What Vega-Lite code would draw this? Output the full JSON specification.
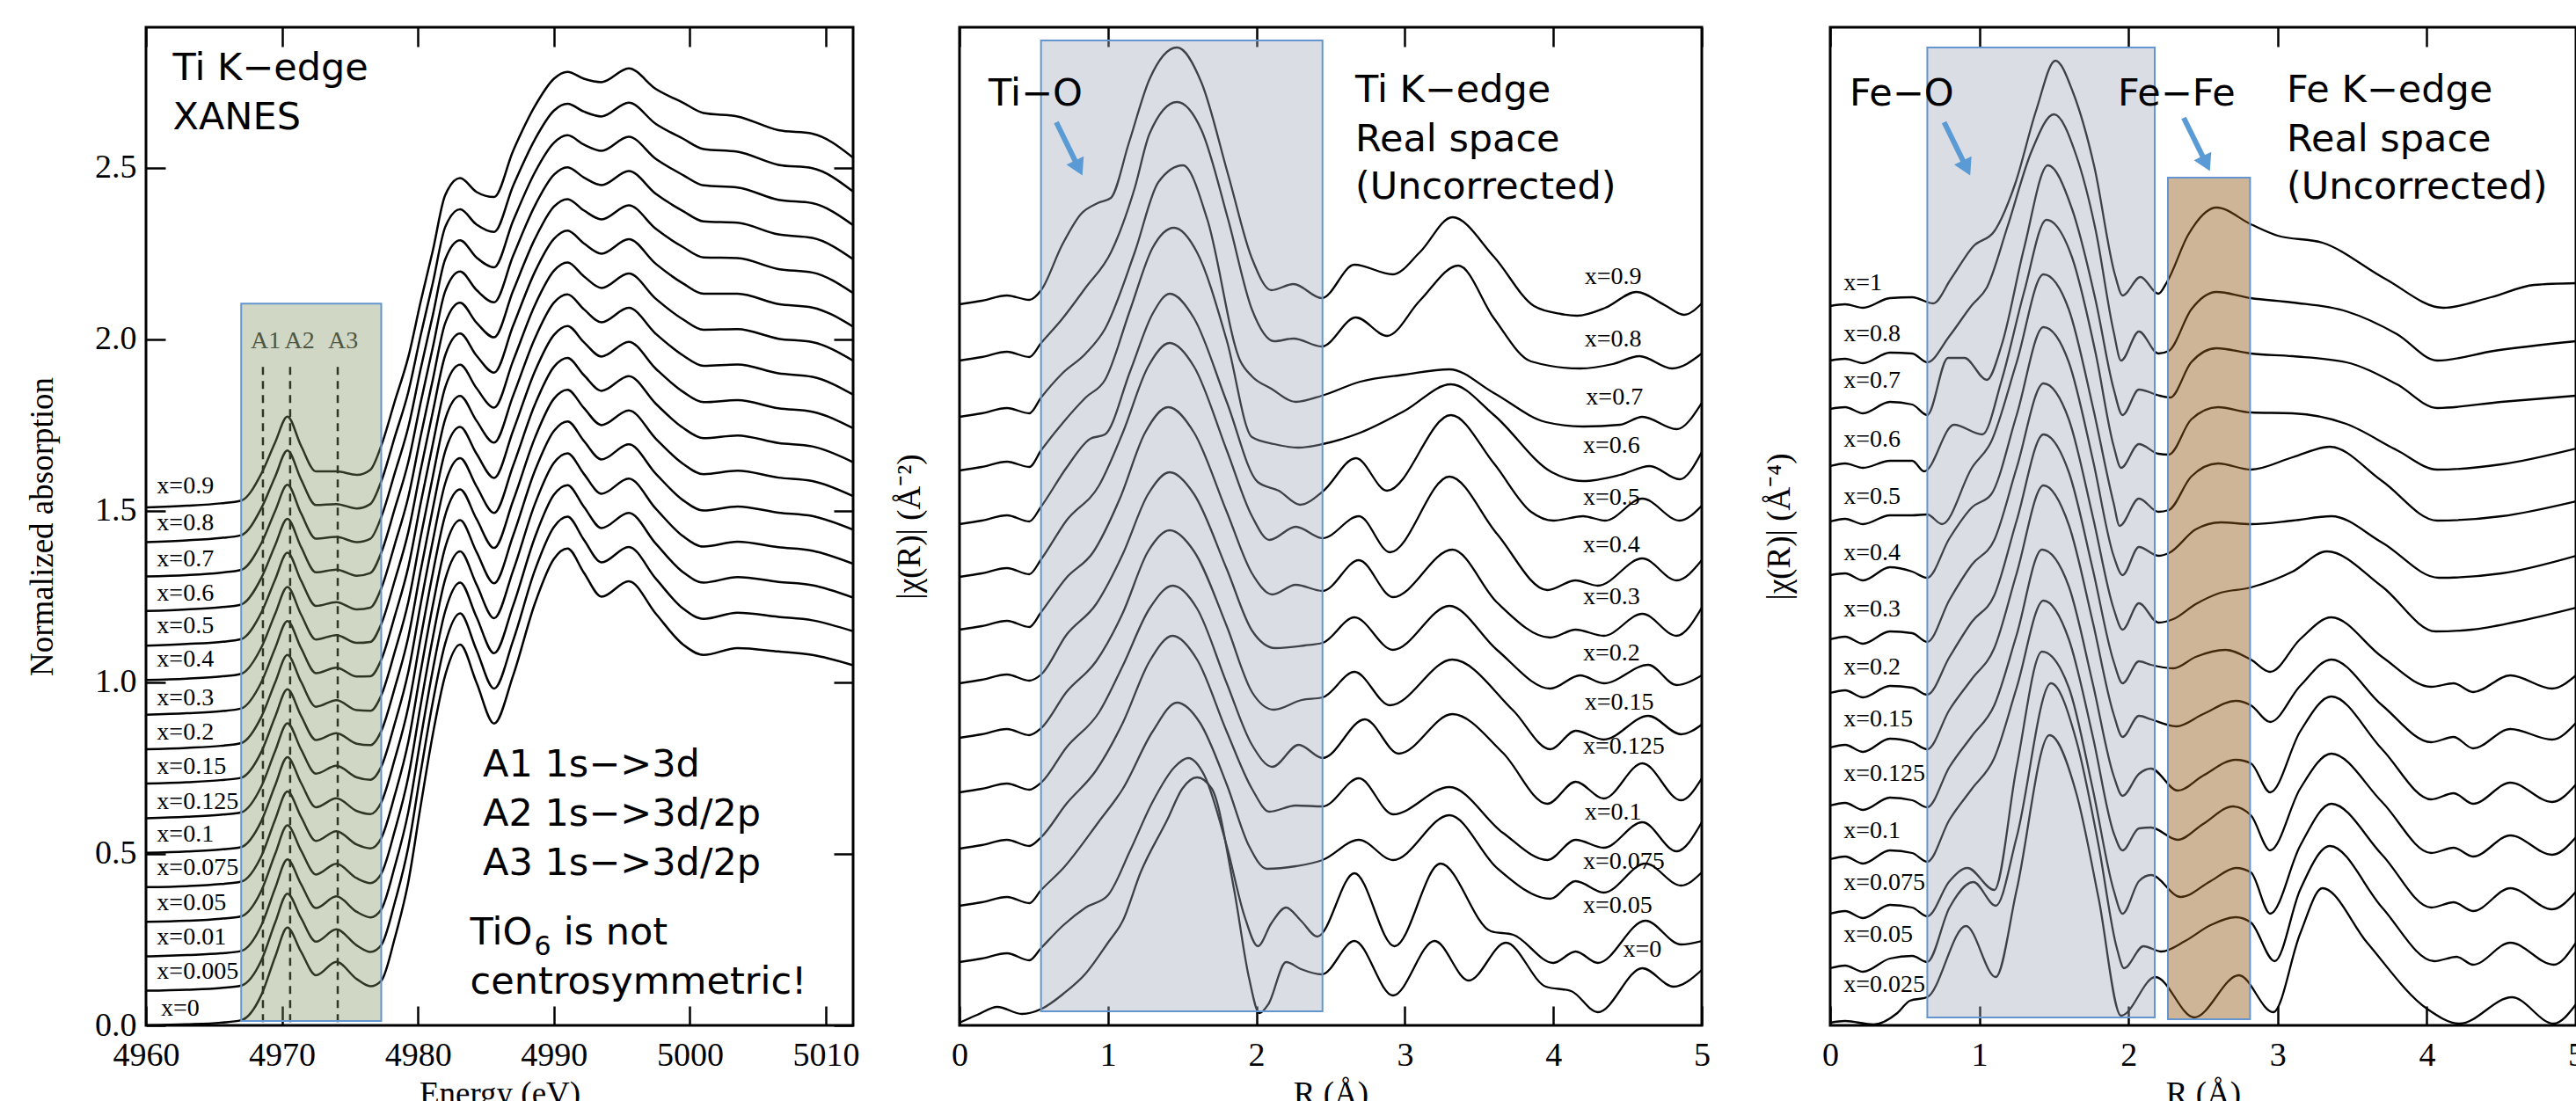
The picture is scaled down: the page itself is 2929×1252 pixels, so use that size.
{
"$schema": "https://vega.github.io/schema/vega-lite/v6.json",
"padding": {"left": 28, "top": 28, "right": 0, "bottom": 0},
"background": "white",
"config": {
  "view": {"stroke": "#000", "strokeWidth": 3},
  "axis": {"grid": false, "domain": false, "tickColor": "#000", "tickWidth": 2.5, "labelColor": "#000", "titleColor": "#000", "labelFont": "Liberation Serif", "titleFont": "Liberation Serif", "labelFontSize": 38, "titleFontSize": 37, "titleFontWeight": "normal", "labelFlush": false, "labelOverlap": false}
},
"datasets": {
  "p1": [
    {"e":4960,"c0":0,"c1":0.101,"c2":0.201,"c3":0.302,"c4":0.403,"c5":0.503,"c6":0.604,"c7":0.705,"c8":0.805,"c9":0.906,"c10":1.007,"c11":1.107,"c12":1.208,"c13":1.309,"c14":1.409,"c15":1.51},
    {"e":4963,"c0":0.003,"c1":0.104,"c2":0.205,"c3":0.305,"c4":0.406,"c5":0.507,"c6":0.608,"c7":0.709,"c8":0.809,"c9":0.91,"c10":1.011,"c11":1.112,"c12":1.213,"c13":1.313,"c14":1.414,"c15":1.515},
    {"e":4965.5,"c0":0.008,"c1":0.109,"c2":0.21,"c3":0.311,"c4":0.412,"c5":0.513,"c6":0.614,"c7":0.715,"c8":0.815,"c9":0.916,"c10":1.017,"c11":1.118,"c12":1.219,"c13":1.32,"c14":1.421,"c15":1.522},
    {"e":4967,"c0":0.015,"c1":0.116,"c2":0.217,"c3":0.318,"c4":0.419,"c5":0.52,"c6":0.621,"c7":0.722,"c8":0.823,"c9":0.924,"c10":1.025,"c11":1.126,"c12":1.227,"c13":1.328,"c14":1.429,"c15":1.53},
    {"e":4968.5,"c0":0.09,"c1":0.191,"c2":0.293,"c3":0.394,"c4":0.495,"c5":0.597,"c6":0.698,"c7":0.799,"c8":0.901,"c9":1.002,"c10":1.103,"c11":1.205,"c12":1.306,"c13":1.407,"c14":1.509,"c15":1.61},
    {"e":4969.5,"c0":0.2,"c1":0.3,"c2":0.4,"c3":0.5,"c4":0.6,"c5":0.7,"c6":0.8,"c7":0.9,"c8":1.0,"c9":1.1,"c10":1.2,"c11":1.3,"c12":1.4,"c13":1.5,"c14":1.6,"c15":1.7},
    {"e":4970.4,"c0":0.285,"c1":0.384,"c2":0.484,"c3":0.583,"c4":0.682,"c5":0.782,"c6":0.881,"c7":0.98,"c8":1.08,"c9":1.179,"c10":1.278,"c11":1.378,"c12":1.477,"c13":1.576,"c14":1.676,"c15":1.775},
    {"e":4971.4,"c0":0.215,"c1":0.313,"c2":0.412,"c3":0.51,"c4":0.608,"c5":0.707,"c6":0.805,"c7":0.903,"c8":1.002,"c9":1.1,"c10":1.198,"c11":1.297,"c12":1.395,"c13":1.493,"c14":1.592,"c15":1.69},
    {"e":4972.5,"c0":0.146,"c1":0.244,"c2":0.342,"c3":0.44,"c4":0.538,"c5":0.636,"c6":0.734,"c7":0.832,"c8":0.929,"c9":1.027,"c10":1.125,"c11":1.223,"c12":1.321,"c13":1.419,"c14":1.517,"c15":1.615},
    {"e":4974,"c0":0.185,"c1":0.28,"c2":0.376,"c3":0.471,"c4":0.566,"c5":0.662,"c6":0.757,"c7":0.852,"c8":0.948,"c9":1.043,"c10":1.138,"c11":1.234,"c12":1.329,"c13":1.424,"c14":1.52,"c15":1.615},
    {"e":4975.5,"c0":0.135,"c1":0.233,"c2":0.331,"c3":0.429,"c4":0.527,"c5":0.625,"c6":0.723,"c7":0.821,"c8":0.919,"c9":1.017,"c10":1.115,"c11":1.213,"c12":1.311,"c13":1.409,"c14":1.507,"c15":1.605},
    {"e":4976.5,"c0":0.114,"c1":0.214,"c2":0.315,"c3":0.415,"c4":0.516,"c5":0.616,"c6":0.716,"c7":0.817,"c8":0.917,"c9":1.018,"c10":1.118,"c11":1.218,"c12":1.319,"c13":1.419,"c14":1.52,"c15":1.62},
    {"e":4977.3,"c0":0.13,"c1":0.234,"c2":0.338,"c3":0.442,"c4":0.546,"c5":0.65,"c6":0.754,"c7":0.858,"c8":0.962,"c9":1.066,"c10":1.17,"c11":1.274,"c12":1.378,"c13":1.482,"c14":1.586,"c15":1.69},
    {"e":4978.3,"c0":0.255,"c1":0.359,"c2":0.464,"c3":0.568,"c4":0.672,"c5":0.777,"c6":0.881,"c7":0.985,"c8":1.09,"c9":1.194,"c10":1.298,"c11":1.403,"c12":1.507,"c13":1.611,"c14":1.716,"c15":1.82},
    {"e":4979.3,"c0":0.42,"c1":0.522,"c2":0.624,"c3":0.726,"c4":0.828,"c5":0.93,"c6":1.032,"c7":1.134,"c8":1.236,"c9":1.338,"c10":1.44,"c11":1.542,"c12":1.644,"c13":1.746,"c14":1.848,"c15":1.95},
    {"e":4980.2,"c0":0.64,"c1":0.738,"c2":0.836,"c3":0.934,"c4":1.032,"c5":1.13,"c6":1.228,"c7":1.326,"c8":1.424,"c9":1.522,"c10":1.62,"c11":1.718,"c12":1.816,"c13":1.914,"c14":2.012,"c15":2.11},
    {"e":4981.1,"c0":0.85,"c1":0.944,"c2":1.038,"c3":1.132,"c4":1.226,"c5":1.32,"c6":1.414,"c7":1.508,"c8":1.602,"c9":1.696,"c10":1.79,"c11":1.884,"c12":1.978,"c13":2.072,"c14":2.166,"c15":2.26},
    {"e":4982,"c0":1.02,"c1":1.113,"c2":1.207,"c3":1.3,"c4":1.393,"c5":1.487,"c6":1.58,"c7":1.673,"c8":1.767,"c9":1.86,"c10":1.953,"c11":2.047,"c12":2.14,"c13":2.233,"c14":2.327,"c15":2.42},
    {"e":4983.1,"c0":1.11,"c1":1.201,"c2":1.291,"c3":1.382,"c4":1.473,"c5":1.563,"c6":1.654,"c7":1.745,"c8":1.835,"c9":1.926,"c10":2.017,"c11":2.107,"c12":2.198,"c13":2.289,"c14":2.379,"c15":2.47},
    {"e":4984.3,"c0":1.0,"c1":1.095,"c2":1.191,"c3":1.286,"c4":1.381,"c5":1.477,"c6":1.572,"c7":1.667,"c8":1.763,"c9":1.858,"c10":1.953,"c11":2.049,"c12":2.144,"c13":2.239,"c14":2.335,"c15":2.43},
    {"e":4985.6,"c0":0.88,"c1":0.982,"c2":1.085,"c3":1.187,"c4":1.289,"c5":1.392,"c6":1.494,"c7":1.596,"c8":1.699,"c9":1.801,"c10":1.903,"c11":2.006,"c12":2.108,"c13":2.21,"c14":2.313,"c15":2.415},
    {"e":4987,"c0":1.02,"c1":1.122,"c2":1.224,"c3":1.326,"c4":1.428,"c5":1.53,"c6":1.632,"c7":1.734,"c8":1.836,"c9":1.938,"c10":2.04,"c11":2.142,"c12":2.244,"c13":2.346,"c14":2.448,"c15":2.55},
    {"e":4988.6,"c0":1.23,"c1":1.327,"c2":1.423,"c3":1.52,"c4":1.617,"c5":1.713,"c6":1.81,"c7":1.907,"c8":2.003,"c9":2.1,"c10":2.197,"c11":2.293,"c12":2.39,"c13":2.487,"c14":2.583,"c15":2.68},
    {"e":4990,"c0":1.36,"c1":1.453,"c2":1.547,"c3":1.64,"c4":1.733,"c5":1.827,"c6":1.92,"c7":2.013,"c8":2.107,"c9":2.2,"c10":2.293,"c11":2.387,"c12":2.48,"c13":2.573,"c14":2.667,"c15":2.76},
    {"e":4991,"c0":1.39,"c1":1.483,"c2":1.575,"c3":1.668,"c4":1.761,"c5":1.853,"c6":1.946,"c7":2.039,"c8":2.131,"c9":2.224,"c10":2.317,"c11":2.409,"c12":2.502,"c13":2.595,"c14":2.687,"c15":2.78},
    {"e":4992.2,"c0":1.32,"c1":1.416,"c2":1.512,"c3":1.608,"c4":1.704,"c5":1.8,"c6":1.896,"c7":1.992,"c8":2.088,"c9":2.184,"c10":2.28,"c11":2.376,"c12":2.472,"c13":2.568,"c14":2.664,"c15":2.76},
    {"e":4993.5,"c0":1.25,"c1":1.35,"c2":1.45,"c3":1.55,"c4":1.65,"c5":1.75,"c6":1.85,"c7":1.95,"c8":2.05,"c9":2.15,"c10":2.25,"c11":2.35,"c12":2.45,"c13":2.55,"c14":2.65,"c15":2.75},
    {"e":4995.5,"c0":1.295,"c1":1.395,"c2":1.494,"c3":1.594,"c4":1.694,"c5":1.793,"c6":1.893,"c7":1.993,"c8":2.092,"c9":2.192,"c10":2.292,"c11":2.391,"c12":2.491,"c13":2.591,"c14":2.69,"c15":2.79},
    {"e":4997.5,"c0":1.2,"c1":1.302,"c2":1.404,"c3":1.506,"c4":1.608,"c5":1.71,"c6":1.812,"c7":1.914,"c8":2.016,"c9":2.118,"c10":2.22,"c11":2.322,"c12":2.424,"c13":2.526,"c14":2.628,"c15":2.73},
    {"e":4999.5,"c0":1.11,"c1":1.215,"c2":1.321,"c3":1.426,"c4":1.531,"c5":1.637,"c6":1.742,"c7":1.847,"c8":1.953,"c9":2.058,"c10":2.163,"c11":2.269,"c12":2.374,"c13":2.479,"c14":2.585,"c15":2.69},
    {"e":5001,"c0":1.08,"c1":1.185,"c2":1.291,"c3":1.396,"c4":1.501,"c5":1.607,"c6":1.712,"c7":1.817,"c8":1.923,"c9":2.028,"c10":2.133,"c11":2.239,"c12":2.344,"c13":2.449,"c14":2.555,"c15":2.66},
    {"e":5003.5,"c0":1.1,"c1":1.203,"c2":1.307,"c3":1.41,"c4":1.513,"c5":1.617,"c6":1.72,"c7":1.823,"c8":1.927,"c9":2.03,"c10":2.133,"c11":2.237,"c12":2.34,"c13":2.443,"c14":2.547,"c15":2.65},
    {"e":5006.5,"c0":1.09,"c1":1.191,"c2":1.293,"c3":1.394,"c4":1.495,"c5":1.597,"c6":1.698,"c7":1.799,"c8":1.901,"c9":2.002,"c10":2.103,"c11":2.205,"c12":2.306,"c13":2.407,"c14":2.509,"c15":2.61},
    {"e":5009,"c0":1.08,"c1":1.181,"c2":1.283,"c3":1.384,"c4":1.485,"c5":1.587,"c6":1.688,"c7":1.789,"c8":1.891,"c9":1.992,"c10":2.093,"c11":2.195,"c12":2.296,"c13":2.397,"c14":2.499,"c15":2.6},
    {"e":5012,"c0":1.05,"c1":1.149,"c2":1.247,"c3":1.346,"c4":1.445,"c5":1.543,"c6":1.642,"c7":1.741,"c8":1.839,"c9":1.938,"c10":2.037,"c11":2.135,"c12":2.234,"c13":2.333,"c14":2.431,"c15":2.53}
  ],
  "p1a": [{"e":4968.6},{"e":4970.6},{"e":4974.1}],
  "p1alab": [{"t":"A1","x":4968.8},{"t":"A2","x":4971.3},{"t":"A3","x":4974.5}],
  "p1lab": [
    {"t":"x=0.9","x":4960.8,"y":1.572},{"t":"x=0.8","x":4960.8,"y":1.465},{"t":"x=0.7","x":4960.8,"y":1.359},{"t":"x=0.6","x":4960.8,"y":1.259},
    {"t":"x=0.5","x":4960.8,"y":1.164},{"t":"x=0.4","x":4960.8,"y":1.067},{"t":"x=0.3","x":4960.8,"y":0.954},{"t":"x=0.2","x":4960.8,"y":0.854},
    {"t":"x=0.15","x":4960.8,"y":0.754},{"t":"x=0.125","x":4960.8,"y":0.651},{"t":"x=0.1","x":4960.8,"y":0.556},{"t":"x=0.075","x":4960.8,"y":0.459},
    {"t":"x=0.05","x":4960.8,"y":0.356},{"t":"x=0.01","x":4960.8,"y":0.256},{"t":"x=0.005","x":4960.8,"y":0.156},{"t":"x=0","x":4961.1,"y":0.049}
  ],
  "p1ann": [
    {"t":"Ti K−edge","x":4961.97,"y":2.756},{"t":"XANES","x":4961.97,"y":2.613},
    {"t":"A1 1s−>3d","x":4984.77,"y":0.726},{"t":"A2 1s−>3d/2p","x":4984.77,"y":0.582},{"t":"A3 1s−>3d/2p","x":4984.77,"y":0.438},
    {"t":"TiO","x":4983.84,"y":0.236},{"t":"is not","x":4990.7,"y":0.236},{"t":"centrosymmetric!","x":4983.84,"y":0.092}
  ],
  "p1sub": [{"t":"6","x":4988.55,"y":0.205}],
  "p2": [
    {"s":"c1","r":[0,0.15,0.32,0.47,0.55,0.69,0.82,0.93,1.02,1.14,1.28,1.465,1.63,1.81,1.97,2.1,2.25,2.44,2.66,2.92,3.1,3.32,3.6,3.87,4.05,4.16,4.35,4.56,4.75,4.88,5],
     "v":[8.20,8.24,8.30,8.25,8.36,8.87,9.23,9.35,9.41,10.03,10.76,11.12,10.72,9.67,8.72,8.36,8.43,8.27,8.65,8.54,8.79,9.19,8.74,8.18,8.09,8.07,8.16,8.34,8.19,8.08,8.21]},
    {"s":"c2","r":[0,0.15,0.32,0.47,0.55,0.69,0.85,1.02,1.18,1.28,1.465,1.63,1.81,1.97,2.12,2.25,2.44,2.67,2.88,3.1,3.36,3.6,3.85,4.18,4.4,4.58,4.8,5],
     "v":[7.56,7.60,7.66,7.60,7.76,8.03,8.39,8.79,9.52,10.14,10.50,10.18,9.16,8.14,7.78,7.81,7.72,8.05,7.84,8.24,8.64,8.04,7.55,7.47,7.52,7.61,7.47,7.64]},
    {"s":"c3","r":[0,0.15,0.32,0.47,0.55,0.69,0.85,0.98,1.18,1.34,1.505,1.67,1.89,1.97,2.1,2.265,2.44,2.7,3,3.3,3.6,3.95,4.2,4.45,4.6,4.83,5],
     "v":[6.92,6.96,7.02,6.96,7.14,7.41,7.64,7.92,8.79,9.59,9.78,9.16,7.56,7.38,7.24,7.09,7.16,7.32,7.40,7.46,7.19,6.86,6.81,6.83,6.92,6.78,7.08]},
    {"s":"c4","r":[0,0.15,0.32,0.47,0.55,0.7,0.85,0.98,1.15,1.3,1.445,1.6,1.8,1.97,2.12,2.285,2.446,2.7,3,3.31,3.6,3.99,4.2,4.45,4.65,4.85,5],
     "v":[6.31,6.35,6.41,6.35,6.54,6.86,7.14,7.34,8.14,8.84,9.07,8.79,7.79,6.69,6.61,6.57,6.61,6.74,6.99,7.29,6.94,6.29,6.19,6.26,6.36,6.21,6.52]},
    {"s":"c5","r":[0,0.15,0.32,0.47,0.55,0.72,0.88,0.98,1.15,1.3,1.416,1.58,1.8,2.008,2.15,2.295,2.446,2.67,2.88,3.31,3.6,3.85,4,4.2,4.35,4.6,4.85,5],
     "v":[5.70,5.74,5.80,5.73,5.90,6.34,6.67,6.72,7.44,8.09,8.32,8.04,7.09,6.18,6.08,5.92,6.07,6.45,6.08,6.94,6.39,5.84,5.74,5.79,5.74,5.99,5.74,5.91]},
    {"s":"c6","r":[0,0.15,0.32,0.47,0.55,0.72,0.94,1.1,1.27,1.416,1.58,1.8,1.97,2.087,2.265,2.446,2.69,2.9,3.3,3.62,3.96,4.15,4.3,4.6,4.83,5],
     "v":[5.10,5.14,5.20,5.13,5.30,5.74,6.14,6.74,7.49,7.76,7.49,6.54,5.79,5.52,5.67,5.54,5.79,5.38,6.24,5.59,4.95,5.06,5.00,5.31,5.06,5.29]},
    {"s":"c7","r":[0,0.15,0.32,0.47,0.55,0.72,0.9,1.08,1.25,1.406,1.58,1.8,1.97,2.107,2.265,2.446,2.69,2.92,3.32,3.62,3.98,4.15,4.34,4.6,4.83,5],
     "v":[4.50,4.54,4.60,4.53,4.70,5.09,5.38,5.99,6.74,7.03,6.74,5.84,5.14,4.90,5.01,4.94,5.29,4.87,5.41,4.81,4.41,4.50,4.43,4.68,4.43,4.75]},
    {"s":"c8","r":[0,0.15,0.32,0.47,0.55,0.72,0.92,1.1,1.27,1.416,1.58,1.8,1.97,2.127,2.324,2.446,2.66,2.92,3.3,3.62,3.98,4.18,4.34,4.64,4.83,5],
     "v":[3.89,3.93,3.99,3.92,3.99,4.44,4.79,5.36,6.04,6.29,6.04,5.19,4.49,4.29,4.32,4.35,4.64,4.27,4.77,4.27,3.83,3.98,3.89,4.10,3.87,3.98]},
    {"s":"c9","r":[0,0.15,0.32,0.47,0.55,0.72,0.92,1.1,1.27,1.416,1.58,1.8,1.97,2.117,2.305,2.446,2.66,2.9,3.32,3.73,3.98,4.15,4.34,4.64,4.86,5],
     "v":[3.27,3.31,3.37,3.30,3.38,3.79,4.14,4.69,5.39,5.63,5.39,4.54,3.79,3.59,3.70,3.73,4.02,3.64,4.16,3.58,3.14,3.35,3.25,3.52,3.31,3.42]},
    {"s":"c10","r":[0,0.15,0.32,0.47,0.55,0.72,0.94,1.1,1.28,1.436,1.6,1.8,1.97,2.107,2.285,2.446,2.73,2.96,3.32,3.66,3.96,4.15,4.34,4.6,4.86,5],
     "v":[2.65,2.69,2.75,2.68,2.76,3.16,3.56,4.09,4.74,5.00,4.74,3.89,3.19,2.94,3.19,3.04,3.48,3.09,3.54,3.10,2.52,2.77,2.58,2.98,2.56,2.81]},
    {"s":"c11","r":[0,0.15,0.32,0.47,0.55,0.72,0.92,1.1,1.28,1.436,1.6,1.8,1.97,2.087,2.265,2.446,2.69,2.92,3.3,3.66,3.96,4.15,4.34,4.6,4.83,5],
     "v":[2.01,2.05,2.11,2.04,2.14,2.52,2.90,3.44,4.14,4.43,4.16,3.34,2.69,2.43,2.50,2.49,2.81,2.40,2.71,2.19,1.88,2.11,2.02,2.31,1.98,2.31]},
    {"s":"c12","r":[0,0.15,0.32,0.47,0.55,0.7,0.94,1.1,1.3,1.465,1.62,1.8,1.95,2.07,2.265,2.446,2.69,2.92,3.3,3.62,3.98,4.15,4.34,4.62,4.86,5],
     "v":[1.36,1.40,1.46,1.39,1.54,1.79,2.32,2.69,3.34,3.67,3.44,2.74,2.04,1.78,1.81,1.88,2.11,1.88,2.39,1.79,1.44,1.64,1.51,1.84,1.59,1.74]},
    {"s":"c13","r":[0,0.15,0.32,0.47,0.55,0.7,0.85,1,1.15,1.3,1.45,1.54,1.65,1.8,1.92,2.01,2.1,2.2,2.3,2.41,2.66,2.93,3.24,3.58,3.73,4,4.15,4.3,4.62,4.86,5],
     "v":[0.72,0.76,0.82,0.74,0.88,1.14,1.34,1.48,1.99,2.54,2.94,3.04,2.84,2.04,1.24,0.90,1.16,1.34,1.19,1.01,1.73,0.90,1.84,1.07,1.03,0.71,0.84,0.71,1.19,0.92,0.96]},
    {"s":"c14","r":[0,0.12,0.255,0.42,0.555,0.7,0.85,1,1.1,1.22,1.4,1.5,1.6,1.7,1.85,1.95,2.02,2.08,2.2,2.3,2.44,2.66,2.92,3.2,3.43,3.68,3.95,4.12,4.3,4.6,4.81,5],
     "v":[0.03,0.12,0.21,0.13,0.19,0.36,0.59,0.94,1.19,1.74,2.34,2.69,2.82,2.69,1.54,0.54,0.14,0.24,0.72,0.64,0.58,0.96,0.34,0.96,0.51,0.94,0.44,0.39,0.15,0.65,0.44,0.63]}
  ],
  "p2lab": [
    {"t":"x=0.9","x":4.21,"y":8.51},{"t":"x=0.8","x":4.21,"y":7.80},{"t":"x=0.7","x":4.22,"y":7.14},{"t":"x=0.6","x":4.2,"y":6.59},
    {"t":"x=0.5","x":4.2,"y":6.00},{"t":"x=0.4","x":4.2,"y":5.46},{"t":"x=0.3","x":4.2,"y":4.87},{"t":"x=0.2","x":4.2,"y":4.23},
    {"t":"x=0.15","x":4.21,"y":3.67},{"t":"x=0.125","x":4.2,"y":3.17},{"t":"x=0.1","x":4.21,"y":2.42},{"t":"x=0.075","x":4.2,"y":1.86},
    {"t":"x=0.05","x":4.2,"y":1.36},{"t":"x=0","x":4.47,"y":0.86}
  ],
  "p2ann": [{"t":"Ti−O","x":0.196,"y":10.46},{"t":"Ti K−edge","x":2.666,"y":10.5},{"t":"Real space","x":2.666,"y":9.94},{"t":"(Uncorrected)","x":2.666,"y":9.4}],
  "p2arr": [{"x1":0.652,"y1":10.27,"x2":0.792,"y2":9.786,"hx":0.803,"hy":9.75}],
  "p3": [
    {"s":"c1","r":[0,0.1,0.22,0.4,0.55,0.69,0.81,0.96,1.1,1.24,1.38,1.51,1.63,1.77,1.91,1.96,2.08,2.2,2.26,2.4,2.59,2.82,3,3.3,3.72,4.11,4.43,4.72,5],
     "v":[8.18,8.20,8.16,8.27,8.28,8.21,8.49,8.86,9.03,9.57,10.40,10.97,10.60,9.77,8.53,8.30,8.51,8.32,8.46,8.99,9.30,9.11,8.98,8.90,8.49,8.16,8.28,8.42,8.44]},
    {"s":"c2","r":[0,0.1,0.22,0.4,0.55,0.65,0.8,0.95,1.05,1.19,1.35,1.5,1.65,1.78,1.9,1.95,2.07,2.2,2.27,2.42,2.59,2.82,3.1,3.46,3.8,4.07,4.45,5],
     "v":[7.56,7.58,7.53,7.65,7.64,7.54,7.84,8.19,8.39,9.09,9.94,10.36,9.89,9.04,7.89,7.56,7.89,7.64,7.67,8.14,8.34,8.27,8.22,8.12,7.86,7.56,7.67,7.78]},
    {"s":"c3","r":[0,0.1,0.22,0.4,0.55,0.65,0.79,0.9,1.05,1.15,1.3,1.46,1.62,1.78,1.9,1.96,2.07,2.21,2.28,2.42,2.59,2.82,3.1,3.46,3.8,4.07,4.5,5],
     "v":[7.01,7.03,6.96,7.09,7.06,6.94,7.59,7.59,7.34,7.74,8.84,9.78,9.29,8.24,7.24,6.94,7.23,7.16,7.14,7.54,7.70,7.64,7.61,7.54,7.29,7.02,7.09,7.16]},
    {"s":"c4","r":[0,0.1,0.22,0.4,0.55,0.63,0.83,1.02,1.15,1.3,1.45,1.62,1.78,1.9,1.95,2.07,2.2,2.27,2.42,2.6,2.82,3.1,3.46,3.8,4.07,4.5,5],
     "v":[6.36,6.39,6.34,6.42,6.42,6.30,6.83,6.72,7.34,8.34,9.16,8.74,7.64,6.59,6.34,6.61,6.50,6.49,6.89,7.03,6.97,6.96,6.84,6.54,6.32,6.38,6.56]},
    {"s":"c5","r":[0,0.1,0.22,0.4,0.55,0.65,0.75,0.95,1.08,1.25,1.43,1.6,1.76,1.9,1.94,2.07,2.2,2.27,2.42,2.6,2.82,3.1,3.35,3.7,4.07,4.5,5],
     "v":[5.73,5.76,5.70,5.80,5.80,5.81,5.70,6.34,6.64,7.54,8.54,8.14,7.04,5.94,5.68,5.99,5.84,5.86,6.24,6.39,6.32,6.46,6.58,6.19,5.74,5.79,5.96]},
    {"s":"c6","r":[0,0.1,0.22,0.4,0.55,0.65,0.8,0.95,1.08,1.25,1.43,1.6,1.76,1.9,1.96,2.07,2.2,2.27,2.45,2.62,2.82,3.1,3.36,3.7,4.08,4.5,5],
     "v":[5.12,5.14,5.06,5.21,5.16,5.09,5.54,5.89,6.04,6.94,7.94,7.54,6.44,5.34,5.12,5.44,5.34,5.37,5.64,5.72,5.70,5.74,5.79,5.49,5.09,5.14,5.34]},
    {"s":"c7","r":[0,0.1,0.22,0.4,0.55,0.65,0.8,0.95,1.1,1.25,1.43,1.6,1.76,1.9,1.96,2.07,2.2,2.3,2.45,2.6,2.82,3.1,3.33,3.7,4.06,4.3,4.6,5],
     "v":[4.39,4.42,4.34,4.48,4.46,4.36,4.84,5.24,5.52,6.34,7.30,6.89,5.79,4.74,4.50,4.80,4.58,4.62,4.79,4.91,4.98,5.16,5.39,4.99,4.48,4.50,4.59,4.75]},
    {"s":"c8","r":[0,0.1,0.22,0.4,0.55,0.65,0.8,0.95,1.1,1.25,1.43,1.6,1.76,1.9,1.96,2.07,2.15,2.3,2.45,2.65,2.82,2.95,3.15,3.36,3.7,4.03,4.18,4.31,4.56,4.84,5],
     "v":[3.78,3.81,3.73,3.86,3.84,3.76,4.19,4.59,4.89,5.74,6.72,6.29,5.19,4.14,3.89,4.14,4.10,4.06,4.19,4.27,4.16,4.02,4.39,4.64,4.19,3.85,3.89,3.79,3.98,3.83,3.98]},
    {"s":"c9","r":[0,0.1,0.22,0.4,0.55,0.65,0.8,0.95,1.1,1.25,1.43,1.6,1.76,1.9,1.96,2.07,2.15,2.32,2.5,2.72,2.82,2.95,3.15,3.36,3.7,4.03,4.18,4.31,4.56,4.84,5],
     "v":[3.16,3.19,3.11,3.26,3.22,3.14,3.59,3.94,4.29,5.14,6.14,5.69,4.59,3.54,3.28,3.52,3.48,3.40,3.54,3.69,3.64,3.45,3.86,4.16,3.64,3.22,3.28,3.15,3.37,3.25,3.44]},
    {"s":"c10","r":[0,0.1,0.22,0.4,0.55,0.65,0.8,0.95,1.1,1.25,1.42,1.6,1.76,1.9,1.96,2.07,2.15,2.33,2.5,2.72,2.82,2.95,3.15,3.36,3.7,4.03,4.18,4.31,4.56,4.84,5],
     "v":[2.50,2.53,2.45,2.59,2.56,2.48,2.94,3.29,3.64,4.44,5.41,4.99,3.89,2.84,2.61,2.86,2.92,2.67,2.84,3.02,2.98,2.65,3.34,3.74,3.14,2.57,2.64,2.52,2.76,2.54,2.74]},
    {"s":"c11","r":[0,0.1,0.22,0.4,0.55,0.65,0.8,0.95,1.1,1.25,1.43,1.6,1.76,1.9,1.96,2.07,2.15,2.33,2.5,2.7,2.82,2.95,3.15,3.36,3.7,4.03,4.18,4.31,4.56,4.84,5],
     "v":[1.89,1.92,1.84,1.99,1.96,1.86,2.34,2.69,3.04,3.84,4.83,4.39,3.29,2.19,1.99,2.24,2.25,2.11,2.29,2.49,2.39,1.99,2.69,3.09,2.54,1.96,2.02,1.92,2.16,1.94,2.14]},
    {"s":"c12","r":[0,0.1,0.22,0.4,0.55,0.65,0.8,0.92,1.1,1.25,1.42,1.6,1.76,1.9,1.96,2.07,2.15,2.35,2.55,2.72,2.82,2.95,3.15,3.36,3.7,4.03,4.18,4.31,4.56,4.84,5],
     "v":[1.27,1.30,1.22,1.37,1.34,1.24,1.64,1.79,1.54,2.94,4.25,3.84,2.69,1.54,1.27,1.64,1.71,1.46,1.64,1.79,1.74,1.27,2.04,2.52,1.94,1.34,1.40,1.30,1.56,1.32,1.52]},
    {"s":"c13","r":[0,0.1,0.22,0.4,0.55,0.65,0.8,0.96,1.11,1.25,1.48,1.65,1.8,1.92,1.97,2.1,2.22,2.38,2.55,2.72,2.82,2.98,3.15,3.35,3.7,4.05,4.2,4.31,4.56,4.85,5],
     "v":[0.65,0.68,0.61,0.76,0.79,0.72,1.34,1.63,1.36,2.14,3.89,3.24,2.04,0.89,0.65,0.90,0.84,0.96,1.14,1.23,1.17,0.73,1.54,2.04,1.34,0.73,0.78,0.69,0.94,0.69,0.94]},
    {"s":"c14","r":[0,0.1,0.29,0.45,0.534,0.65,0.91,1.11,1.25,1.47,1.65,1.8,1.95,2.18,2.44,2.74,2.97,3.15,3.3,3.6,4,4.22,4.57,4.85,5],
     "v":[0.03,0.05,0.01,0.14,0.28,0.32,1.13,0.55,1.54,3.30,2.64,1.44,0.11,0.55,0.09,0.57,0.15,1.04,1.56,0.94,0.19,0.02,0.32,0.02,0.24]}
  ],
  "p3lab": [
    {"t":"x=1","x":0.09,"y":8.44},{"t":"x=0.8","x":0.09,"y":7.86},{"t":"x=0.7","x":0.09,"y":7.33},{"t":"x=0.6","x":0.09,"y":6.66},
    {"t":"x=0.5","x":0.09,"y":6.01},{"t":"x=0.4","x":0.09,"y":5.37},{"t":"x=0.3","x":0.09,"y":4.73},{"t":"x=0.2","x":0.09,"y":4.07},
    {"t":"x=0.15","x":0.09,"y":3.48},{"t":"x=0.125","x":0.09,"y":2.86},{"t":"x=0.1","x":0.09,"y":2.21},{"t":"x=0.075","x":0.09,"y":1.62},
    {"t":"x=0.05","x":0.09,"y":1.03},{"t":"x=0.025","x":0.09,"y":0.46}
  ],
  "p3ann": [{"t":"Fe−O","x":0.129,"y":10.46},{"t":"Fe−Fe","x":1.928,"y":10.46},{"t":"Fe K−edge","x":3.06,"y":10.5},{"t":"Real space","x":3.06,"y":9.94},{"t":"(Uncorrected)","x":3.06,"y":9.4}],
  "p3arr": [{"x1":0.764,"y1":10.27,"x2":0.9035,"y2":9.786,"hx":0.914,"hy":9.75},{"x1":2.37,"y1":10.32,"x2":2.5105,"y2":9.836,"hx":2.521,"hy":9.8}]
},
"spacing": 34,
"hconcat": [
  {
    "width": 804, "height": 1135,
    "layer": [
      {"data": {"name": "p1"},
       "transform": [{"fold": ["c0","c1","c2","c3","c4","c5","c6","c7","c8","c9","c10","c11","c12","c13","c14","c15"], "as": ["s","v"]}],
       "mark": {"type": "line", "interpolate": "monotone", "stroke": "#000", "strokeWidth": 2.5, "clip": true},
       "encoding": {
         "x": {"field": "e", "type": "quantitative", "scale": {"domain": [4960, 5012], "nice": false, "zero": false},
               "axis": {"orient": "bottom", "values": [4960,4970,4980,4990,5000,5010], "format": "d", "title": "Energy (eV)", "tickSize": -22, "labelPadding": 37, "titlePadding": 7}},
         "y": {"field": "v", "type": "quantitative", "scale": {"domain": [0, 2.91], "nice": false, "zero": false},
               "axis": {"orient": "left", "values": [0,0.5,1,1.5,2,2.5], "format": ".1f", "title": "Normalized absorption", "tickSize": -22, "labelPadding": 33, "titlePadding": 40}},
         "detail": {"field": "s", "type": "nominal"}
       }},
      {"data": {"name": "p1a"},
       "mark": {"type": "rule", "stroke": "#000", "strokeWidth": 2.5, "strokeDash": [9, 7]},
       "encoding": {"x": {"field": "e", "type": "quantitative", "axis": null}, "y": {"datum": 1.92, "type": "quantitative", "axis": null}, "y2": {"datum": 0}}},
      {"data": {"name": "p1alab"},
       "mark": {"type": "text", "align": "center", "baseline": "middle", "font": "Liberation Serif", "fontSize": 28, "color": "#333"},
       "encoding": {"x": {"field": "x", "type": "quantitative", "axis": null}, "y": {"datum": 1.995, "type": "quantitative", "axis": null}, "text": {"field": "t"}}},
      {"data": {"values": [{"x1": 4967, "x2": 4977.3, "y1": 0.013, "y2": 2.104}]},
       "mark": {"type": "rect", "fill": "#7f925f", "fillOpacity": 0.37, "stroke": "#6495cf", "strokeWidth": 2},
       "encoding": {
         "x": {"field": "x1", "type": "quantitative", "scale": {"domain": [4960, 5012], "nice": false, "zero": false},
               "axis": {"orient": "top", "values": [4960,4970,4980,4990,5000,5010], "labels": false, "title": null, "tickSize": -22}},
         "x2": {"field": "x2"},
         "y": {"field": "y1", "type": "quantitative", "scale": {"domain": [0, 2.91], "nice": false, "zero": false},
               "axis": {"orient": "right", "values": [0,0.5,1,1.5,2,2.5], "labels": false, "title": null, "tickSize": -22}},
         "y2": {"field": "y2"}
       }},
      {"data": {"name": "p1lab"},
       "mark": {"type": "text", "align": "left", "baseline": "middle", "font": "Liberation Serif", "fontSize": 28, "color": "#000"},
       "encoding": {"x": {"field": "x", "type": "quantitative", "axis": null}, "y": {"field": "y", "type": "quantitative", "axis": null}, "text": {"field": "t"}}},
      {"data": {"name": "p1ann"},
       "mark": {"type": "text", "align": "left", "baseline": "alphabetic", "font": "DejaVu Sans", "fontSize": 43, "color": "#000"},
       "encoding": {"x": {"field": "x", "type": "quantitative", "axis": null}, "y": {"field": "y", "type": "quantitative", "axis": null}, "text": {"field": "t"}}},
      {"data": {"name": "p1sub"},
       "mark": {"type": "text", "align": "left", "baseline": "alphabetic", "font": "DejaVu Sans", "fontSize": 30, "color": "#000"},
       "encoding": {"x": {"field": "x", "type": "quantitative", "axis": null}, "y": {"field": "y", "type": "quantitative", "axis": null}, "text": {"field": "t"}}}
    ],
    "resolve": {"axis": {"x": "independent", "y": "independent"}}
  },
  {
    "spacing": 56,
    "hconcat": [
      {
        "width": 844, "height": 1135,
        "layer": [
          {"data": {"name": "p2"}, "transform": [{"flatten": ["r", "v"]}],
           "mark": {"type": "line", "interpolate": "monotone", "stroke": "#000", "strokeWidth": 2.3, "clip": true},
           "encoding": {
             "x": {"field": "r", "type": "quantitative", "scale": {"domain": [0, 5], "nice": false, "zero": false},
                   "axis": {"orient": "bottom", "values": [0,1,2,3,4,5], "format": "d", "title": "R (Å)", "tickSize": -22, "labelPadding": 37, "titlePadding": 7}},
             "y": {"field": "v", "type": "quantitative", "scale": {"domain": [0, 11.35], "nice": false, "zero": false},
                   "axis": {"orient": "left", "ticks": false, "labels": false, "title": "|χ(R)| (Å⁻²)", "titlePadding": 38}},
             "detail": {"field": "s", "type": "nominal"}
           }},
          {"data": {"values": [{"x1": 0.549, "x2": 2.445, "y1": 0.16, "y2": 11.2}]},
           "mark": {"type": "rect", "fill": "#9fa9b9", "fillOpacity": 0.39, "stroke": "#6495cf", "strokeWidth": 2},
           "encoding": {
             "x": {"field": "x1", "type": "quantitative", "scale": {"domain": [0, 5], "nice": false, "zero": false},
                   "axis": {"orient": "top", "values": [0,1,2,3,4,5], "labels": false, "title": null, "tickSize": -22}},
             "x2": {"field": "x2"},
             "y": {"field": "y1", "type": "quantitative", "scale": {"domain": [0, 11.35], "nice": false, "zero": false}, "axis": null},
             "y2": {"field": "y2"}
           }},
          {"data": {"name": "p2lab"},
           "mark": {"type": "text", "align": "left", "baseline": "middle", "font": "Liberation Serif", "fontSize": 28, "color": "#000"},
           "encoding": {"x": {"field": "x", "type": "quantitative", "axis": null}, "y": {"field": "y", "type": "quantitative", "axis": null}, "text": {"field": "t"}}},
          {"data": {"name": "p2ann"},
           "mark": {"type": "text", "align": "left", "baseline": "alphabetic", "font": "DejaVu Sans", "fontSize": 43, "color": "#000"},
           "encoding": {"x": {"field": "x", "type": "quantitative", "axis": null}, "y": {"field": "y", "type": "quantitative", "axis": null}, "text": {"field": "t"}}},
          {"data": {"name": "p2arr"},
           "mark": {"type": "rule", "stroke": "#5b9bd5", "strokeWidth": 6},
           "encoding": {"x": {"field": "x1", "type": "quantitative", "axis": null}, "y": {"field": "y1", "type": "quantitative", "axis": null}, "x2": {"field": "x2"}, "y2": {"field": "y2"}}},
          {"data": {"name": "p2arr"},
           "mark": {"type": "point", "shape": "triangle-down", "filled": true, "size": 480, "angle": 334, "color": "#5b9bd5", "opacity": 1},
           "encoding": {"x": {"field": "hx", "type": "quantitative", "axis": null}, "y": {"field": "hy", "type": "quantitative", "axis": null}}}
        ],
        "resolve": {"axis": {"x": "independent", "y": "independent"}}
      },
      {
        "width": 848, "height": 1135,
        "layer": [
          {"data": {"name": "p3"}, "transform": [{"flatten": ["r", "v"]}],
           "mark": {"type": "line", "interpolate": "monotone", "stroke": "#000", "strokeWidth": 2.3, "clip": true},
           "encoding": {
             "x": {"field": "r", "type": "quantitative", "scale": {"domain": [0, 5], "nice": false, "zero": false},
                   "axis": {"orient": "bottom", "values": [0,1,2,3,4,5], "format": "d", "title": "R (Å)", "tickSize": -22, "labelPadding": 37, "titlePadding": 7}},
             "y": {"field": "v", "type": "quantitative", "scale": {"domain": [0, 11.35], "nice": false, "zero": false},
                   "axis": {"orient": "left", "ticks": false, "labels": false, "title": "|χ(R)| (Å⁻⁴)", "titlePadding": 39}},
             "detail": {"field": "s", "type": "nominal"}
           }},
          {"data": {"values": [{"x1": 0.651, "x2": 2.176, "y1": 0.09, "y2": 11.12}]},
           "mark": {"type": "rect", "fill": "#9fa9b9", "fillOpacity": 0.39, "stroke": "#6495cf", "strokeWidth": 2},
           "encoding": {
             "x": {"field": "x1", "type": "quantitative", "scale": {"domain": [0, 5], "nice": false, "zero": false},
                   "axis": {"orient": "top", "values": [0,1,2,3,4,5], "labels": false, "title": null, "tickSize": -22}},
             "x2": {"field": "x2"},
             "y": {"field": "y1", "type": "quantitative", "scale": {"domain": [0, 11.35], "nice": false, "zero": false}, "axis": null},
             "y2": {"field": "y2"}
           }},
          {"data": {"values": [{"x1": 2.264, "x2": 2.815, "y1": 0.07, "y2": 9.64}]},
           "mark": {"type": "rect", "fill": "#955b18", "fillOpacity": 0.45, "stroke": "#6495cf", "strokeWidth": 2},
           "encoding": {
             "x": {"field": "x1", "type": "quantitative", "axis": null},
             "x2": {"field": "x2"},
             "y": {"field": "y1", "type": "quantitative", "axis": null},
             "y2": {"field": "y2"}
           }},
          {"data": {"name": "p3lab"},
           "mark": {"type": "text", "align": "left", "baseline": "middle", "font": "Liberation Serif", "fontSize": 28, "color": "#000"},
           "encoding": {"x": {"field": "x", "type": "quantitative", "axis": null}, "y": {"field": "y", "type": "quantitative", "axis": null}, "text": {"field": "t"}}},
          {"data": {"name": "p3ann"},
           "mark": {"type": "text", "align": "left", "baseline": "alphabetic", "font": "DejaVu Sans", "fontSize": 43, "color": "#000"},
           "encoding": {"x": {"field": "x", "type": "quantitative", "axis": null}, "y": {"field": "y", "type": "quantitative", "axis": null}, "text": {"field": "t"}}},
          {"data": {"name": "p3arr"},
           "mark": {"type": "rule", "stroke": "#5b9bd5", "strokeWidth": 6},
           "encoding": {"x": {"field": "x1", "type": "quantitative", "axis": null}, "y": {"field": "y1", "type": "quantitative", "axis": null}, "x2": {"field": "x2"}, "y2": {"field": "y2"}}},
          {"data": {"name": "p3arr"},
           "mark": {"type": "point", "shape": "triangle-down", "filled": true, "size": 480, "angle": 334, "color": "#5b9bd5", "opacity": 1},
           "encoding": {"x": {"field": "hx", "type": "quantitative", "axis": null}, "y": {"field": "hy", "type": "quantitative", "axis": null}}}
        ],
        "resolve": {"axis": {"x": "independent", "y": "independent"}}
      }
    ]
  }
]
}
